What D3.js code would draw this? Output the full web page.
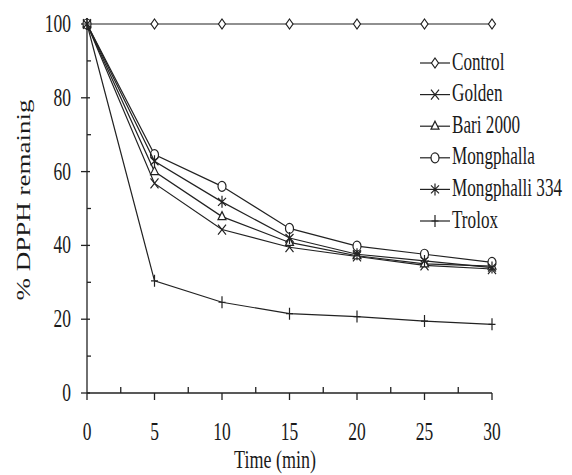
<!DOCTYPE html>
<html>
<head>
<meta charset="utf-8">
<script src="https://cdn.jsdelivr.net/npm/d3@7"></script>
<style>
  body { margin: 0; background: #fff; }
  svg text { font-family: "Liberation Serif", "Times New Roman", serif; fill: #1a1a1a; }
</style>
</head>
<body>
<div id="chart"></div>
<script>
///////////////////////////////////////////////////////////////////////////
//////////////////////////////// The data /////////////////////////////////
///////////////////////////////////////////////////////////////////////////

var times = [0, 5, 10, 15, 20, 25, 30];
var seriesNames = ["Control", "Golden", "Bari 2000", "Mongphalla", "Mongphalli 334", "Trolox"];
var controlVals = [100, 100, 100, 100, 100, 100, 100];
var goldenVals = [100, 56.8, 44.3, 39.5, 37.0, 34.6, 33.6];
var bariVals = [100, 60.0, 47.8, 40.8, 37.2, 35.0, 34.4];
var mongphallaVals = [100, 64.6, 56.0, 44.6, 39.8, 37.6, 35.4];
var mongphalliVals = [100, 62.8, 51.8, 42.0, 37.6, 35.8, 34.0];
var troloxVals = [100, 30.4, 24.6, 21.5, 20.7, 19.5, 18.6];
var xTicks = [0, 5, 10, 15, 20, 25, 30];
var yTicks = [0, 20, 40, 60, 80, 100];

var allVals = [controlVals, goldenVals, bariVals, mongphallaVals, mongphalliVals, troloxVals];
var markers = ["diamond", "cross", "triangle", "circle", "asterisk", "plus"];

///////////////////////////////////////////////////////////////////////////
//////////////////////////// Set up the SVG ///////////////////////////////
///////////////////////////////////////////////////////////////////////////
var width = 572, height = 475;
var squash = 0.72; //text in the picture is narrowed horizontally
var ink = "#222";

var svg = d3.select("#chart").append("svg")
	.attr("width", width)
	.attr("height", height);

var x = d3.scaleLinear().domain([0, 30]).range([87, 492]);
var y = d3.scaleLinear().domain([0, 100]).range([393, 24]);

///////////////////////////////////////////////////////////////////////////
///////////////////////////////// Axes ////////////////////////////////////
///////////////////////////////////////////////////////////////////////////
var axes = svg.append("g").attr("class", "axes")
	.style("stroke", ink).style("stroke-width", 1.3);

axes.append("line").attr("x1", x(0)).attr("x2", x(0)).attr("y1", y(100)).attr("y2", y(0));
axes.append("line").attr("x1", x(0)).attr("x2", x(30)).attr("y1", y(0)).attr("y2", y(0));

//y major ticks cross the axis, minor ticks point inside
axes.selectAll(".y-major").data(yTicks).enter().append("line")
	.attr("x1", x(0) - 6).attr("x2", x(0) + 3)
	.attr("y1", function(d) { return y(d); }).attr("y2", function(d) { return y(d); });
axes.selectAll(".y-minor").data(d3.range(10, 100, 20)).enter().append("line")
	.attr("x1", x(0)).attr("x2", x(0) + 4)
	.attr("y1", function(d) { return y(d); }).attr("y2", function(d) { return y(d); });

//x major ticks point down, minor ticks point up
axes.selectAll(".x-major").data(xTicks).enter().append("line")
	.attr("x1", function(d) { return x(d); }).attr("x2", function(d) { return x(d); })
	.attr("y1", y(0)).attr("y2", y(0) + 7);
axes.selectAll(".x-minor").data(d3.range(2.5, 30, 5)).enter().append("line")
	.attr("x1", function(d) { return x(d); }).attr("x2", function(d) { return x(d); })
	.attr("y1", y(0)).attr("y2", y(0) - 6);

svg.selectAll(".y-label").data(yTicks).enter().append("text")
	.attr("transform", function(d) { return "translate(71," + (y(d) + 8) + ") scale(0.7,1)"; })
	.attr("text-anchor", "end")
	.style("font-size", "25px")
	.text(function(d) { return d; });

svg.selectAll(".x-label").data(xTicks).enter().append("text")
	.attr("transform", function(d) { return "translate(" + x(d) + ",440) scale(0.7,1)"; })
	.attr("text-anchor", "middle")
	.style("font-size", "25px")
	.text(function(d) { return d; });

svg.append("text")
	.attr("transform", "translate(275,468) scale(" + squash + ",1)")
	.attr("text-anchor", "middle")
	.style("font-size", "25px")
	.text("Time (min)");

svg.append("text")
	.attr("transform", "translate(30,200) rotate(-90) scale(1," + squash + ")")
	.attr("text-anchor", "middle")
	.style("font-size", "27px")
	.text("% DPPH remainig");

///////////////////////////////////////////////////////////////////////////
/////////////////////////////// Markers ///////////////////////////////////
///////////////////////////////////////////////////////////////////////////
function addMarker(g, type) {
	if (type === "circle") {
		g.append("ellipse").attr("rx", 4).attr("ry", 5).style("fill", "#fff");
	} else {
		var p = {
			diamond: "M0,-5L3.5,0L0,5L-3.5,0Z",
			cross: "M-4,-5L4,5M-4,5L4,-5",
			triangle: "M0,-5L4,3L-4,3Z",
			asterisk: "M-4,-4L4,4M-4,4L4,-4M0,-6L0,6",
			plus: "M-3.5,0L3.5,0M0,-6L0,6"
		}[type];
		g.append("path").attr("d", p)
			.style("fill", (type === "diamond" || type === "triangle") ? "#fff" : "none");
	}
}

///////////////////////////////////////////////////////////////////////////
//////////////////////////////// Lines ////////////////////////////////////
///////////////////////////////////////////////////////////////////////////
var line = d3.line()
	.x(function(d, i) { return x(times[i]); })
	.y(function(d) { return y(d); });

allVals.forEach(function(vals, s) {
	var g = svg.append("g").attr("class", "series")
		.style("stroke", ink).style("stroke-width", 1.2);
	g.append("path").attr("d", line(vals)).style("fill", "none");
	vals.forEach(function(v, i) {
		var m = g.append("g").attr("transform", "translate(" + x(times[i]) + "," + y(v) + ")");
		addMarker(m, markers[s]);
	});
});

///////////////////////////////////////////////////////////////////////////
//////////////////////////////// Legend ///////////////////////////////////
///////////////////////////////////////////////////////////////////////////
var legend = svg.append("g").attr("class", "legend");

seriesNames.forEach(function(name, i) {
	var ly = 63 + i * 31.6;
	var row = legend.append("g").style("stroke", ink).style("stroke-width", 1.2);
	row.append("line").attr("x1", 420).attr("x2", 450).attr("y1", ly).attr("y2", ly);
	addMarker(row.append("g").attr("transform", "translate(435," + ly + ")"), markers[i]);
	legend.append("text")
		.attr("transform", "translate(452," + (ly + 6.5) + ") scale(0.66,1)")
		.style("font-size", "26px")
		.text(name);
});
</script>
</body>
</html>
